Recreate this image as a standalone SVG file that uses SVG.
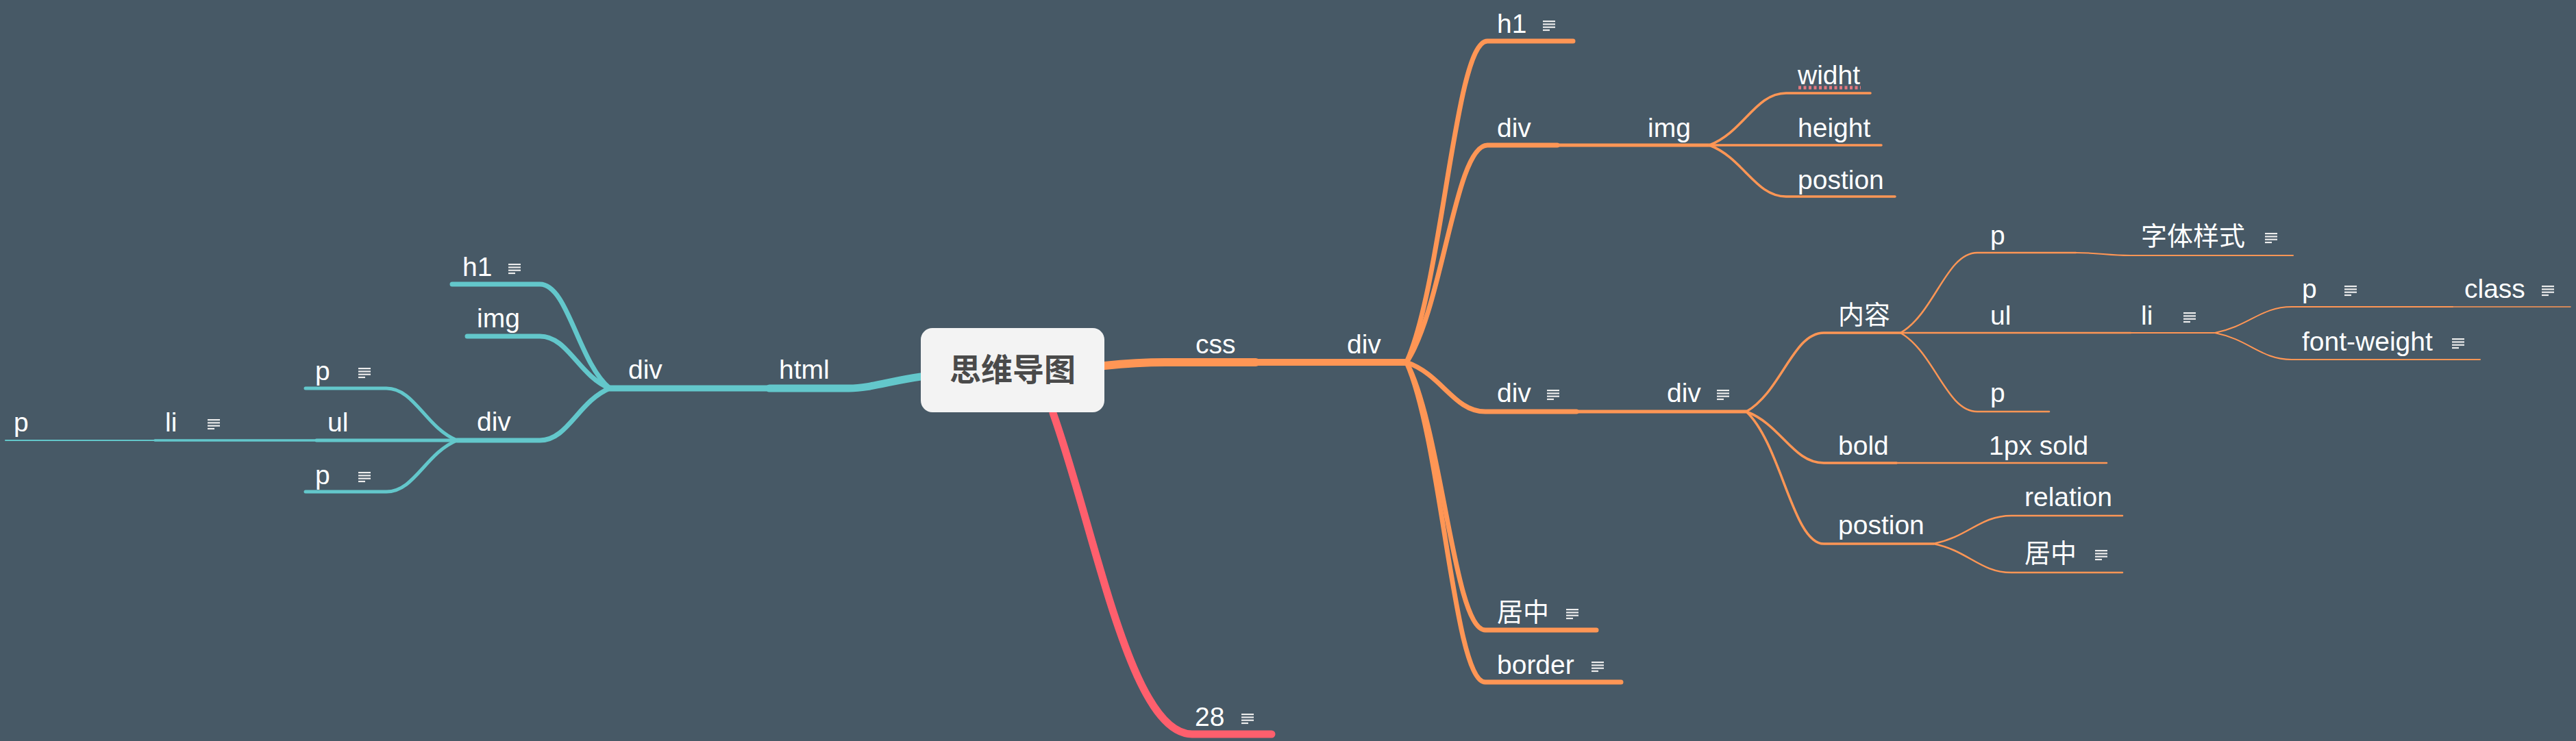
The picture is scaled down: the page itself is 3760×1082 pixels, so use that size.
<svg xmlns="http://www.w3.org/2000/svg" xmlns:xlink="http://www.w3.org/1999/xlink" width="3760" height="1082" viewBox="0 0 3760 1082">
<style>
.t{font-family:'Liberation Sans','Noto Sans CJK SC',sans-serif;font-size:39px;fill:#ffffff}
.cj{font-size:38px}
.root{font-family:'Liberation Sans','Noto Sans CJK SC',sans-serif;font-size:46px;font-weight:bold;fill:#4a4a4a}
.c{fill:none;stroke:#63c7cb;stroke-linecap:round}
.o{fill:none;stroke:#ff9655;stroke-linecap:round}
.r{fill:none;stroke:#ff5f6d;stroke-linecap:round}
</style>
<defs>
<g id="note" fill="#ececec">
<rect x="0" y="0" width="18" height="2.2"/>
<rect x="0" y="4.3" width="18" height="2.2"/>
<rect x="0" y="8.6" width="18" height="2.2"/>
<rect x="0" y="12.9" width="10" height="2.2"/>
</g>
</defs>
<rect x="0" y="0" width="3760" height="1082" fill="#475966"/>
<g id="connectors">
<path class="c" stroke-width="11" d="M 1344 550 C 1300 556, 1270 567, 1239 567 L 1123 567"/>
<path class="c" stroke-width="9" d="M 1123 567 L 890 567"/>
<path class="c" stroke-width="7" d="M 890 567 C 844 529, 829 415, 788 415 L 660 415"/>
<path class="c" stroke-width="7" d="M 890 567 C 844 548, 829 491, 788 491 L 682 491"/>
<path class="c" stroke-width="7" d="M 890 567 C 844 586, 829 643, 788 643 L 667 643"/>
<path class="c" stroke-width="5" d="M 667 643 C 621 624, 605 567, 564 567 L 446 567"/>
<path class="c" stroke-width="5" d="M 667 643 L 462 643"/>
<path class="c" stroke-width="5" d="M 667 643 C 621 662, 605 718, 564 718 L 446 718"/>
<path class="c" stroke-width="3.5" d="M 462 643 L 226 643"/>
<path class="c" stroke-width="2" d="M 226 643 L 8 643"/>
<path class="o" stroke-width="12" d="M 1612 534 C 1650 530, 1675 529, 1701 529 L 1833 529"/>
<path class="o" stroke-width="10" d="M 1833 529 L 2053 529"/>
<path class="o" stroke-width="7" d="M 2053 529 C 2106 412, 2124 60, 2171 60 L 2296 60"/>
<path class="o" stroke-width="7" d="M 2053 529 C 2106 450, 2124 212, 2171 212 L 2273 212"/>
<path class="o" stroke-width="5" d="M 2273 212 L 2495 212"/>
<path class="o" stroke-width="7" d="M 2053 529 C 2105 547, 2122 601, 2168 601 L 2301 601"/>
<path class="o" stroke-width="5" d="M 2301 601 L 2549 601"/>
<path class="o" stroke-width="7" d="M 2053 529 C 2105 627, 2122 920, 2168 920 L 2330 920"/>
<path class="o" stroke-width="7" d="M 2053 529 C 2105 646, 2122 996, 2168 996 L 2366 996"/>
<path class="o" stroke-width="3.5" d="M 2495 212 C 2545 193, 2562 136, 2607 136 L 2730 136"/>
<path class="o" stroke-width="3.5" d="M 2495 212 L 2746 212"/>
<path class="o" stroke-width="3.5" d="M 2495 212 C 2545 231, 2562 287, 2607 287 L 2766 287"/>
<path class="o" stroke-width="3.5" d="M 2549 601 C 2600 572, 2617 486, 2662 486 L 2774 486"/>
<path class="o" stroke-width="3.5" d="M 2549 601 C 2600 620, 2617 676, 2662 676 L 2768 676"/>
<path class="o" stroke-width="2.5" d="M 2768 676 L 3075 676"/>
<path class="o" stroke-width="3.5" d="M 2549 601 C 2600 649, 2617 794, 2662 794 L 2822 794"/>
<path class="o" stroke-width="2.5" d="M 2774 486 C 2824 457, 2841 369, 2886 369 L 3030 369"/>
<path class="o" stroke-width="2" d="M 3030 369 C 3065 369, 3075 373, 3110 373 L 3347 373"/>
<path class="o" stroke-width="2.5" d="M 2774 486 L 3110 486"/>
<path class="o" stroke-width="2" d="M 3110 486 L 3233 486"/>
<path class="o" stroke-width="2.5" d="M 2774 486 C 2824 515, 2841 601, 2886 601 L 2991 601"/>
<path class="o" stroke-width="2" d="M 3233 486 C 3283 476, 3300 448, 3345 448 L 3580 448"/>
<path class="o" stroke-width="1.5" d="M 3580 448 L 3752 448"/>
<path class="o" stroke-width="2" d="M 3233 486 C 3283 496, 3300 525, 3345 525 L 3620 525"/>
<path class="o" stroke-width="2.5" d="M 2822 794 C 2873 784, 2890 753, 2936 753 L 3098 753"/>
<path class="o" stroke-width="2.5" d="M 2822 794 C 2873 804, 2890 836, 2936 836 L 3098 836"/>
<path class="r" stroke-width="11" d="M 1537 603 C 1600 780, 1650 1072, 1740 1072 L 1856 1072"/>
</g>
<g id="root"><rect x="1344" y="479" width="268" height="123" rx="17" fill="#f3f3f3"/><text class="root" x="1478" y="556" text-anchor="middle">思维导图</text></g>
<g id="n-html"><text class="t" x="1137" y="553">html</text></g>
<g id="n-ldiv1"><text class="t" x="917" y="553">div</text></g>
<g id="n-lh1"><text class="t" x="675" y="403">h1</text><use href="#note" x="742" y="385"/></g>
<g id="n-limg"><text class="t" x="696" y="478">img</text></g>
<g id="n-ldiv2"><text class="t" x="696" y="629">div</text></g>
<g id="n-lp1"><text class="t" x="460" y="555">p</text><use href="#note" x="523" y="537"/></g>
<g id="n-lul"><text class="t" x="478" y="630">ul</text></g>
<g id="n-lp2"><text class="t" x="460" y="707">p</text><use href="#note" x="523" y="689"/></g>
<g id="n-lli"><text class="t" x="241" y="630">li</text><use href="#note" x="303" y="612"/></g>
<g id="n-lp3"><text class="t" x="20" y="630">p</text></g>
<g id="n-css"><text class="t" x="1745" y="516">css</text></g>
<g id="n-rdiv1"><text class="t" x="1966" y="516">div</text></g>
<g id="n-rh1"><text class="t" x="2185" y="48">h1</text><use href="#note" x="2252" y="30"/></g>
<g id="n-rdiv2"><text class="t" x="2185" y="200">div</text></g>
<g id="n-rimg"><text class="t" x="2405" y="200">img</text></g>
<g id="n-widht"><text class="t" x="2624" y="123">widht</text><line x1="2625" y1="128" x2="2716" y2="128" stroke="#e2787e" stroke-width="5" stroke-dasharray="4 3.5"/></g>
<g id="n-height"><text class="t" x="2624" y="200">height</text></g>
<g id="n-postion1"><text class="t" x="2624" y="276">postion</text></g>
<g id="n-rdiv3"><text class="t" x="2185" y="587">div</text><use href="#note" x="2258" y="569"/></g>
<g id="n-rdiv4"><text class="t" x="2433" y="587">div</text><use href="#note" x="2506" y="569"/></g>
<g id="n-neirong"><text class="t cj" x="2683" y="473">内容</text></g>
<g id="n-rp1"><text class="t" x="2905" y="357">p</text></g>
<g id="n-ziti"><text class="t cj" x="3125" y="358">字体样式</text><use href="#note" x="3306" y="340"/></g>
<g id="n-rul"><text class="t" x="2905" y="474">ul</text></g>
<g id="n-rli"><text class="t" x="3125" y="474">li</text><use href="#note" x="3187" y="456"/></g>
<g id="n-rp2"><text class="t" x="3360" y="435">p</text><use href="#note" x="3422" y="417"/></g>
<g id="n-class"><text class="t" x="3597" y="435">class</text><use href="#note" x="3710" y="417"/></g>
<g id="n-fw"><text class="t" x="3360" y="512">font-weight</text><use href="#note" x="3579" y="494"/></g>
<g id="n-rp3"><text class="t" x="2905" y="587">p</text></g>
<g id="n-bold"><text class="t" x="2683" y="664">bold</text></g>
<g id="n-1px"><text class="t" x="2903" y="664">1px sold</text></g>
<g id="n-postion2"><text class="t" x="2683" y="780">postion</text></g>
<g id="n-relation"><text class="t" x="2955" y="739">relation</text></g>
<g id="n-juzhong2"><text class="t cj" x="2955" y="821">居中</text><use href="#note" x="3058" y="803"/></g>
<g id="n-juzhong1"><text class="t cj" x="2185" y="907">居中</text><use href="#note" x="2286" y="889"/></g>
<g id="n-border"><text class="t" x="2185" y="984">border</text><use href="#note" x="2323" y="966"/></g>
<g id="n-28"><text class="t" x="1744" y="1060">28</text><use href="#note" x="1812" y="1042"/></g>
</svg>
